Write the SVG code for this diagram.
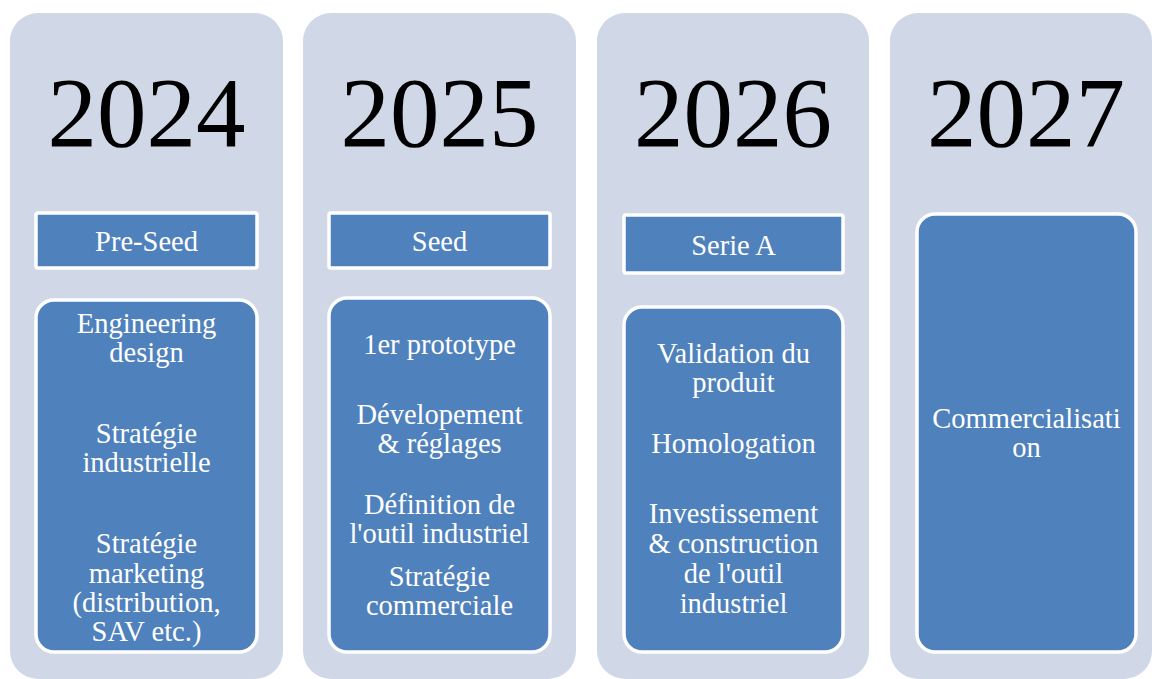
<svg xmlns="http://www.w3.org/2000/svg" width="1152" height="679" viewBox="0 0 1152 679">
<style>
.col{fill:#d0d8e8}
.box{fill:#4f81bd;stroke:#ffffff;stroke-width:3.5}
.year{font-family:"Liberation Serif","Times New Roman",serif;font-size:99px;fill:#000;text-anchor:middle}
.t{font-family:"Liberation Serif","Times New Roman",serif;font-size:28.5px;fill:#ffffff;text-anchor:middle}
</style>
<rect width="1152" height="679" fill="#ffffff"/>
<g id="col2024">
<rect class="col" x="10" y="13" width="273" height="666" rx="28"/>
<text class="year" x="146.5" y="146">2024</text>
<g id="preseed"><rect class="box" x="36" y="213" width="221" height="55" rx="2"/>
<text class="t" x="146.5" y="251">Pre-Seed</text></g>
<g id="tasks2024"><rect class="box" x="36" y="300" width="221" height="352" rx="18"/>
<text class="t" x="146.5" y="333">Engineering</text>
<text class="t" x="146.5" y="362">design</text>
<text class="t" x="146.5" y="443">Stratégie</text>
<text class="t" x="146.5" y="472">industrielle</text>
<text class="t" x="146.5" y="553">Stratégie</text>
<text class="t" x="146.5" y="583">marketing</text>
<text class="t" x="146.5" y="612">(distribution,</text>
<text class="t" x="146.5" y="641">SAV etc.)</text></g>
</g>
<g id="col2025">
<rect class="col" x="303" y="13" width="273" height="666" rx="28"/>
<text class="year" x="439.5" y="146">2025</text>
<g id="seed"><rect class="box" x="329" y="213" width="221" height="55" rx="2"/>
<text class="t" x="439.5" y="251">Seed</text></g>
<g id="tasks2025"><rect class="box" x="329" y="298" width="221" height="354" rx="18"/>
<text class="t" x="439.5" y="354">1er prototype</text>
<text class="t" x="439.5" y="424">Dévelopement</text>
<text class="t" x="439.5" y="453">&amp; réglages</text>
<text class="t" x="439.5" y="514">Définition de</text>
<text class="t" x="439.5" y="543">l'outil industriel</text>
<text class="t" x="439.5" y="586">Stratégie</text>
<text class="t" x="439.5" y="615">commerciale</text></g>
</g>
<g id="col2026">
<rect class="col" x="597" y="13" width="272" height="666" rx="28"/>
<text class="year" x="733" y="146">2026</text>
<g id="seriea"><rect class="box" x="624" y="215" width="219" height="58" rx="2"/>
<text class="t" x="733.5" y="255">Serie A</text></g>
<g id="tasks2026"><rect class="box" x="624" y="307" width="219" height="345" rx="18"/>
<text class="t" x="733.5" y="363">Validation du</text>
<text class="t" x="733.5" y="392">produit</text>
<text class="t" x="733.5" y="453">Homologation</text>
<text class="t" x="733.5" y="523">Investissement</text>
<text class="t" x="733.5" y="553">&amp; construction</text>
<text class="t" x="733.5" y="583">de l'outil</text>
<text class="t" x="733.5" y="613">industriel</text></g>
</g>
<g id="col2027">
<rect class="col" x="890" y="13" width="262" height="666" rx="28"/>
<text class="year" x="1026" y="146">2027</text>
<g id="tasks2027"><rect class="box" x="917" y="214" width="219" height="438" rx="18"/>
<text class="t" x="1026.5" y="428">Commercialisati</text>
<text class="t" x="1026.5" y="457">on</text></g>
</g>
<g id="connectors"/>
</svg>
